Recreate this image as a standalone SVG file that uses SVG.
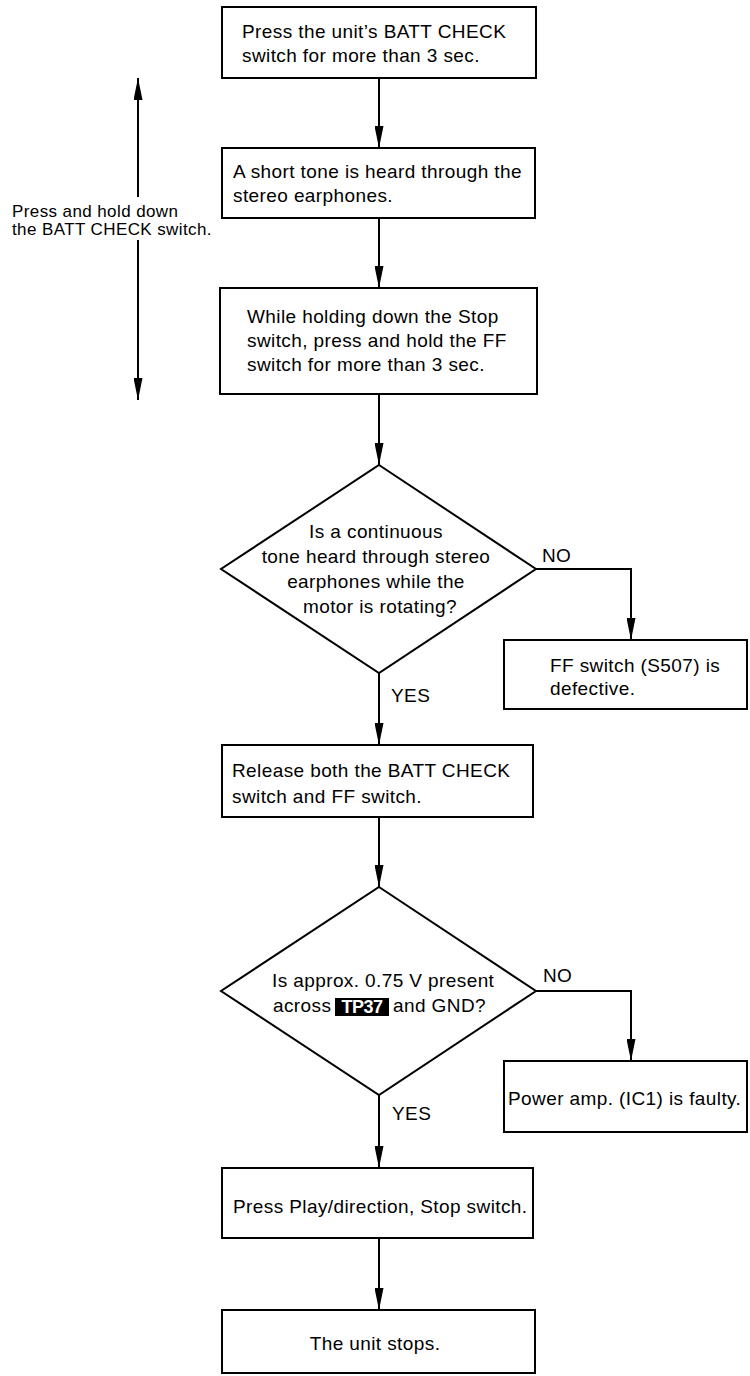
<svg xmlns="http://www.w3.org/2000/svg" width="750" height="1376" viewBox="0 0 750 1376">
<style>
.box{fill:#fff;stroke:#000;stroke-width:2}
.dia{fill:#fff;stroke:#000;stroke-width:2}
.t{font-family:"Liberation Sans",Arial,sans-serif;font-size:19px;letter-spacing:0.4px;fill:#000}
.s{font-family:"Liberation Sans",Arial,sans-serif;font-size:17px;letter-spacing:0.4px;fill:#000}
.c{text-anchor:middle}
.ln{fill:none;stroke:#000;stroke-width:2;marker-end:url(#ah)}
.tp{font-family:"Liberation Sans",Arial,sans-serif;font-size:18px;font-weight:bold;fill:#fff;text-anchor:middle;letter-spacing:-0.5px}
</style>
<defs>
<marker id="ah" viewBox="0 0 22 9" refX="22" refY="4.5" markerWidth="22" markerHeight="9" markerUnits="userSpaceOnUse" orient="auto">
<path d="M0,0 L22,4.5 L0,9 z" fill="#000"/>
</marker>
</defs>
<rect width="750" height="1376" fill="#fff"/>
<g id="connectors">
<path class="ln" d="M379,78 V148"/>
<path class="ln" d="M379,218 V288"/>
<path class="ln" d="M379,394 V465"/>
<path class="ln" d="M535,569 H631 V640"/>
<path class="ln" d="M379,673 V745"/>
<path class="ln" d="M379,817 V887"/>
<path class="ln" d="M536,991 H631 V1061"/>
<path class="ln" d="M379,1095 V1168"/>
<path class="ln" d="M379,1238 V1310"/>
<path class="ln" d="M138,197 V78"/>
<path class="ln" d="M138,240 V400"/>
</g>
<g id="label-hold">
<text class="s" x="12" y="217">Press and hold down</text>
<text class="s" x="12" y="235">the BATT CHECK switch.</text>
</g>
<g id="n1">
<rect class="box" x="222" y="7" width="314" height="71"/>
<text class="t" x="242" y="38">Press the unit’s BATT CHECK</text>
<text class="t" x="242" y="62">switch for more than 3 sec.</text>
</g>
<g id="n2">
<rect class="box" x="222" y="148" width="313" height="70"/>
<text class="t" x="233" y="178">A short tone is heard through the</text>
<text class="t" x="233" y="202">stereo earphones.</text>
</g>
<g id="n3">
<rect class="box" x="220" y="288" width="317" height="106"/>
<text class="t" x="247" y="323">While holding down the Stop</text>
<text class="t" x="247" y="347">switch, press and hold the FF</text>
<text class="t" x="247" y="371">switch for more than 3 sec.</text>
</g>
<g id="d1">
<polygon class="dia" points="379,465 536,569 379,673 221,569"/>
<text class="t c" x="376" y="538">Is a continuous</text>
<text class="t c" x="376" y="563">tone heard through stereo</text>
<text class="t c" x="376" y="588">earphones while the</text>
<text class="t c" x="380" y="613">motor is rotating?</text>
<text class="t" x="542" y="562">NO</text>
<text class="t" x="391" y="702">YES</text>
</g>
<g id="n-ff">
<rect class="box" x="504" y="640" width="243" height="69"/>
<text class="t" x="550" y="672">FF switch (S507) is</text>
<text class="t" x="550" y="695">defective.</text>
</g>
<g id="n4">
<rect class="box" x="222" y="745" width="311" height="72"/>
<text class="t" x="232" y="777">Release both the BATT CHECK</text>
<text class="t" x="232" y="803">switch and FF switch.</text>
</g>
<g id="d2">
<polygon class="dia" points="379,887 536,991 379,1095 221,991"/>
<text class="t" x="272" y="987">Is approx. 0.75 V present</text>
<text class="t" x="273" y="1012">across</text>
<rect x="335" y="998" width="54" height="18" fill="#000"/>
<text class="tp" x="362" y="1013">TP37</text>
<text class="t" x="393" y="1012">and GND?</text>
<text class="t" x="543" y="982">NO</text>
<text class="t" x="392" y="1120">YES</text>
</g>
<g id="n-pa">
<rect class="box" x="504" y="1061" width="243" height="71"/>
<text class="t" x="508" y="1105">Power amp. (IC1) is faulty.</text>
</g>
<g id="n5">
<rect class="box" x="222" y="1168" width="311" height="70"/>
<text class="t" x="233" y="1213">Press Play/direction, Stop switch.</text>
</g>
<g id="n6">
<rect class="box" x="222" y="1310" width="313" height="63"/>
<text class="t c" x="375" y="1350">The unit stops.</text>
</g>
</svg>
